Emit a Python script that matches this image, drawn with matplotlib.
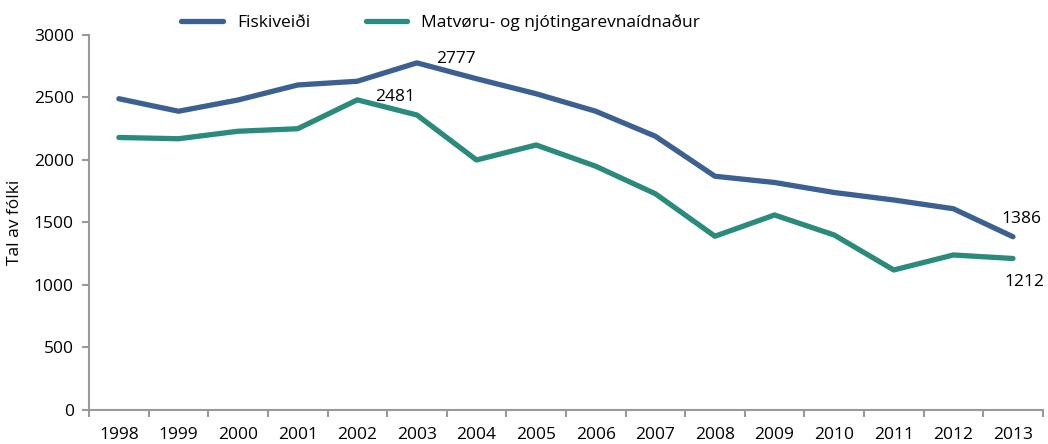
import numpy as np
import matplotlib
matplotlib.use("Agg")
from matplotlib import pyplot as plt

years = ['1998', '1999', '2000', '2001', '2002', '2003', '2004', '2005',
         '2006', '2007', '2008', '2009', '2010', '2011', '2012', '2013']
fiskiveidi = [2490, 2390, 2480, 2600, 2630, 2777, 2650, 2530,
              2390, 2190, 1870, 1820, 1740, 1680, 1610, 1386]
matvoru = [2180, 2170, 2230, 2250, 2481, 2360, 2000, 2120,
           1950, 1730, 1390, 1560, 1400, 1120, 1240, 1212]

blue = '#3B6091'
green = '#2A8A7C'
grey = '#999999'

plt.rcParams['font.family'] = ['Open Sans', 'DejaVu Sans']
plt.rcParams['font.size'] = 12.5

fig = plt.figure(figsize=(10.48, 4.44), dpi=100)
ax = fig.add_axes([0.085, 0.0766, 0.91, 0.8446])

x = np.arange(len(years))
ax.plot(x, fiskiveidi, color=blue, lw=3.8, label='Fiskiveiði', solid_capstyle='round')
ax.plot(x, matvoru, color=green, lw=3.8, label='Matvøru- og njótingarevnaídnaður', solid_capstyle='round')

ax.set_xlim(-0.5, len(years) - 0.5)
ax.set_ylim(0, 3000)
ax.set_yticks(np.arange(0, 3001, 500))

# ticks between categories, labels at centres
ax.set_xticks(np.arange(-0.5, len(years), 1))
ax.set_xticklabels([])
ax.set_xticks(x, minor=True)
ax.set_xticklabels(years, minor=True)
ax.tick_params(axis='x', which='major', length=5, color=grey, width=1.5)
ax.tick_params(axis='x', which='minor', length=0, pad=12)
ax.tick_params(axis='y', length=5, color=grey, width=1.5, pad=6)

for s in ['top', 'right']:
    ax.spines[s].set_visible(False)
for s in ['left', 'bottom']:
    ax.spines[s].set_color(grey)
    ax.spines[s].set_linewidth(1.5)

ax.set_ylabel('Tal av fólki', labelpad=8)

# value labels
ax.annotate('2777', (5, fiskiveidi[5]), xytext=(14, 3), textcoords='offset points',
            va='center', ha='left')
ax.annotate('2481', (4, matvoru[4]), xytext=(13, 2), textcoords='offset points',
            va='center', ha='left')
ax.annotate('1386', (15, fiskiveidi[15]), xytext=(6, 13), textcoords='offset points',
            va='center', ha='center')
ax.annotate('1212', (15, matvoru[15]), xytext=(8, -17), textcoords='offset points',
            va='center', ha='center')

fig.legend(loc='center left', bbox_to_anchor=(0.158, 0.95), ncol=2, frameon=False,
           handlelength=2.4, columnspacing=3.2, handletextpad=0.8)

fig.savefig('out.png', dpi=100)
